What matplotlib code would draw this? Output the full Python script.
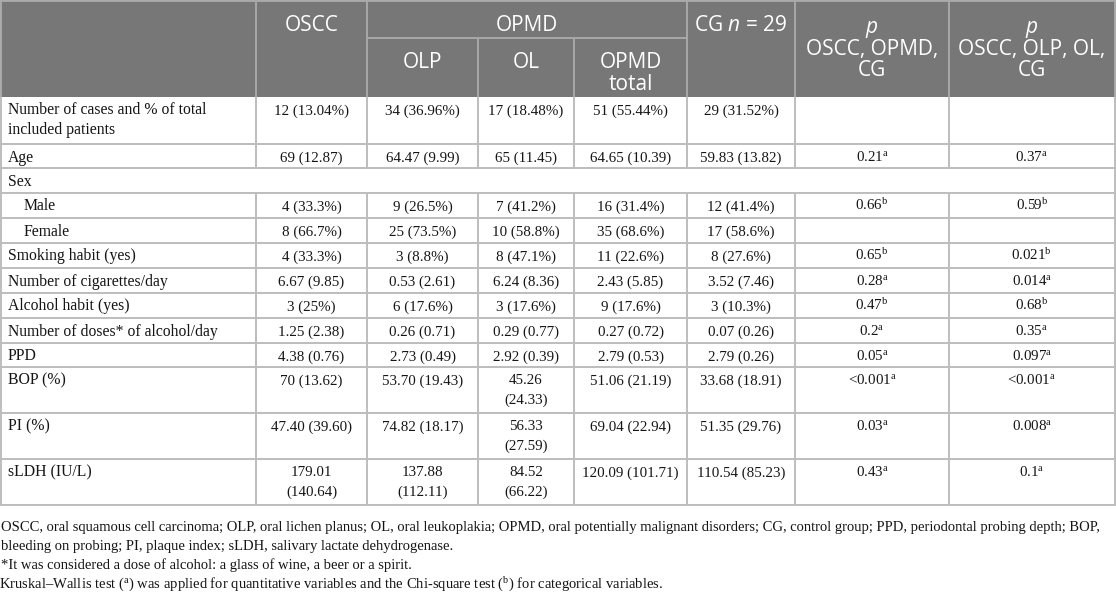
import matplotlib
matplotlib.use("Agg")
import matplotlib.pyplot as plt
from matplotlib.patches import Rectangle

plt.rcParams['mathtext.fontset'] = 'custom'
plt.rcParams['mathtext.rm'] = 'Liberation Serif'
plt.rcParams['mathtext.it'] = 'Open Sans:italic'
plt.rcParams['mathtext.sf'] = 'Open Sans'

# ---------------- data ----------------
row_labels = ["Number of cases and % of total\nincluded patients", "Age", "Sex", "Male", "Female",
              "Smoking habit (yes)", "Number of cigarettes/day", "Alcohol habit (yes)",
              "Number of doses* of alcohol/day", "PPD", "BOP (%)", "PI (%)", "sLDH (IU/L)"]
indented = ["Male", "Female"]
oscc = ["12 (13.04%)", "69 (12.87)", "", "4 (33.3%)", "8 (66.7%)", "4 (33.3%)", "6.67 (9.85)",
        "3 (25%)", "1.25 (2.38)", "4.38 (0.76)", "70 (13.62)", "47.40 (39.60)", "179.01\n(140.64)"]
olp = ["34 (36.96%)", "64.47 (9.99)", "", "9 (26.5%)", "25 (73.5%)", "3 (8.8%)", "0.53 (2.61)",
       "6 (17.6%)", "0.26 (0.71)", "2.73 (0.49)", "53.70 (19.43)", "74.82 (18.17)", "137.88\n(112.11)"]
ol = ["17 (18.48%)", "65 (11.45)", "", "7 (41.2%)", "10 (58.8%)", "8 (47.1%)", "6.24 (8.36)",
      "3 (17.6%)", "0.29 (0.77)", "2.92 (0.39)", "45.26\n(24.33)", "56.33\n(27.59)", "84.52\n(66.22)"]
opmd_total = ["51 (55.44%)", "64.65 (10.39)", "", "16 (31.4%)", "35 (68.6%)", "11 (22.6%)", "2.43 (5.85)",
              "9 (17.6%)", "0.27 (0.72)", "2.79 (0.53)", "51.06 (21.19)", "69.04 (22.94)", "120.09 (101.71)"]
cg = ["29 (31.52%)", "59.83 (13.82)", "", "12 (41.4%)", "17 (58.6%)", "8 (27.6%)", "3.52 (7.46)",
      "3 (10.3%)", "0.07 (0.26)", "2.79 (0.26)", "33.68 (18.91)", "51.35 (29.76)", "110.54 (85.23)"]
p_all = ["", "0.21", "", "0.66", "", "0.65", "0.28", "0.47", "0.2", "0.05", "<0.001", "0.03", "0.43"]
p_all_test = ["", "a", "", "b", "", "b", "a", "b", "a", "a", "a", "a", "a"]
p_sub = ["", "0.37", "", "0.59", "", "0.021", "0.014", "0.68", "0.35", "0.097", "<0.001", "0.008", "0.1"]
p_sub_test = ["", "a", "", "b", "", "b", "a", "b", "a", "a", "a", "a", "a"]
row_heights = [47, 24, 25, 25, 25, 25, 25, 25, 25, 24, 46, 46, 46]
merged_rows = ["Sex"]

footnotes = [
    "OSCC, oral squamous cell carcinoma; OLP, oral lichen planus; OL, oral leukoplakia; OPMD, oral potentially malignant disorders; CG, control group; PPD, periodontal probing depth; BOP,",
    "bleeding on probing; PI, plaque index; sLDH, salivary lactate dehydrogenase.",
    "*It was considered a dose of alcohol: a glass of wine, a beer or a spirit.",
    "Kruskal\u2013Wallis test ($^{\\mathrm{a}}$) was applied for quantitative variables and the Chi-square test ($^{\\mathrm{b}}$) for categorical variables.",
]

# ---------------- layout ----------------
W, H = 1116, 596
fig = plt.figure(figsize=(W / 100, H / 100), dpi=100)
ax = fig.add_axes([0, 0, 1, 1])
ax.set_xlim(0, W)
ax.set_ylim(H, 0)
ax.axis('off')

col_x = [1, 256, 367, 478, 574, 687, 795, 949, 1114.5]
top, head_mid, head_bot = 1, 38, 97
hdr_bg = '#777777'
hdr_line = '#a8a8a8'
grid = '#bdbdbd'
lw = 1.4
serif = 'Liberation Serif'
sans = 'Open Sans'
label_fs = 11.3
val_fs = 10.8
foot_fs = 10.5
head_fs = 15
txt_col = '#151515'

# header background
ax.add_patch(Rectangle((col_x[0], top), col_x[-1] - col_x[0], head_bot - top,
                       facecolor=hdr_bg, edgecolor='none', zorder=1))
# header lines
for x in [col_x[0], col_x[1], col_x[2], col_x[5], col_x[6], col_x[7], col_x[8]]:
    ax.plot([x, x], [top, head_bot], color=hdr_line, lw=lw, zorder=3, solid_capstyle='butt')
for x in [col_x[3], col_x[4]]:
    ax.plot([x, x], [head_mid, head_bot], color=hdr_line, lw=lw, zorder=3, solid_capstyle='butt')
ax.plot([col_x[2], col_x[5]], [head_mid, head_mid], color=hdr_line, lw=lw, zorder=3)
ax.plot([col_x[0], col_x[-1]], [top, top], color=hdr_line, lw=lw, zorder=3)

def htext(x, y, s):
    ax.text(x, y, s, ha='center', va='baseline', fontsize=head_fs, family=sans, color='white', zorder=4)

def cx(i):
    return (col_x[i] + col_x[i + 1]) / 2

htext(cx(1), 31, "OSCC")
htext((col_x[2] + col_x[5]) / 2, 31, "OPMD")
htext(cx(2), 68, "OLP")
htext(cx(3), 68, "OL")
htext(cx(4), 68, "OPMD")
htext(cx(4), 90, "total")
htext(cx(5), 31, "CG $n$ = 29")
for i, l2 in [(6, "OSCC, OPMD,"), (7, "OSCC, OLP, OL,")]:
    htext(cx(i), 33, "$p$")
    htext(cx(i), 55, l2)
    htext(cx(i), 76, "CG")

# body
cols = [oscc, olp, ol, opmd_total, cg]
y = head_bot
line_gap = 19.5
for r, lab in enumerate(row_labels):
    h = row_heights[r]
    y0, y1 = y, y + h
    ax.plot([col_x[0], col_x[-1]], [y1, y1], color=grid, lw=lw, zorder=3)
    if lab in merged_rows:
        xs = [col_x[0], col_x[-1]]
    else:
        xs = col_x
    for x in xs:
        ax.plot([x, x], [y0, y1], color=grid, lw=lw, zorder=3, solid_capstyle='butt')
    base = y0 + 17.5
    lx = 24 if lab in indented else 8
    for k, part in enumerate(lab.split("\n")):
        ax.text(lx, base + k * line_gap, part, ha='left', va='baseline', fontsize=label_fs,
                family=serif, color=txt_col, zorder=4)
    for c, vals in enumerate(cols):
        for k, part in enumerate(vals[r].split("\n")):
            if part:
                ax.text(cx(c + 1), base + k * line_gap, part, ha='center', va='baseline',
                        fontsize=val_fs, family=serif, color=txt_col, zorder=4)
    for c, (pv, pt) in enumerate([(p_all, p_all_test), (p_sub, p_sub_test)]):
        if pv[r]:
            s = pv[r] + "$^{\\mathrm{" + pt[r] + "}}$"
            ax.text(cx(6 + c), base, s, ha='center', va='baseline', fontsize=val_fs,
                    family=serif, color=txt_col, zorder=4)
    y = y1

# footnotes
fy = [531, 550, 569, 588]
for s, yy in zip(footnotes, fy):
    fx = -1 if "$" in s else 1
    ax.text(fx, yy, s, ha='left', va='baseline', fontsize=foot_fs, family=serif, color=txt_col)

fig.savefig("out.png", dpi=100)
